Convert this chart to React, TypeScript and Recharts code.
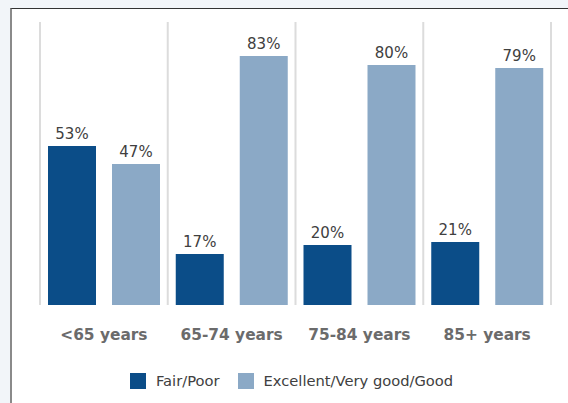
import React from 'react';
import { BarChart, Bar, XAxis, YAxis, CartesianGrid, LabelList } from 'recharts';

const ageGroups = ['<65 years', '65-74 years', '75-84 years', '85+ years'];
const fairPoor = [53, 17, 20, 21];
const excellentGood = [47, 83, 80, 79];
const seriesNames = ['Fair/Poor', 'Excellent/Very good/Good'];
const seriesColors = ['#0b4d88', '#8ba9c6'];

const chartData = ageGroups.map((age, i) => ({
  age,
  fairPoor: fairPoor[i],
  excellentGood: excellentGood[i],
}));

const FONT = '"DejaVu Sans", Verdana, sans-serif';

const AgeTick = (props: any) => {
  const { x, y, payload } = props;
  return (
    <text x={x} y={y} dy={27} textAnchor="middle" fontFamily={FONT} fontSize={15.4} fontWeight="bold" fill="#6b6b6b">
      {payload.value}
    </text>
  );
};

// separators sit on band edges, not band centres
const bandEdges = ({ offset }: any) =>
  ageGroups.concat(['']).map((_, i) => offset.left + (i * offset.width) / ageGroups.length);

const App = () => {
  return (
    <div style={{ position: 'absolute', left: 0, top: 0, width: 568, height: 403, background: '#f2f5f9', overflow: 'hidden' }}>
      <div
        style={{
          position: 'absolute', left: 10, top: 8, right: 0, bottom: 0,
          background: '#ffffff', borderTop: '1px solid #333333', borderLeft: '2px solid #8a8a8a',
        }}
      />
      <div style={{ position: 'absolute', left: 0, top: 0 }}>
        <BarChart
          width={568}
          height={403}
          data={chartData}
          margin={{ top: 22, right: 17, left: 40, bottom: 58 }}
          barCategoryGap={8}
          barGap={16}
        >
          <CartesianGrid
            horizontal={false}
            stroke="#dcdcdc"
            strokeWidth={2}
            verticalCoordinatesGenerator={bandEdges}
          />
          <XAxis dataKey="age" axisLine={false} tickLine={false} height={40} interval={0} tick={<AgeTick />} />
          <YAxis hide domain={[0, 94.3]} />
          <Bar dataKey="fairPoor" name={seriesNames[0]} fill={seriesColors[0]} isAnimationActive={false}>
            <LabelList
              dataKey="fairPoor"
              position="top"
              offset={7}
              formatter={(v: any) => `${v}%`}
              style={{ fontFamily: FONT, fontSize: 15, fill: '#404040' }}
            />
          </Bar>
          <Bar dataKey="excellentGood" name={seriesNames[1]} fill={seriesColors[1]} isAnimationActive={false}>
            <LabelList
              dataKey="excellentGood"
              position="top"
              offset={7}
              formatter={(v: any) => `${v}%`}
              style={{ fontFamily: FONT, fontSize: 15, fill: '#404040' }}
            />
          </Bar>
        </BarChart>
      </div>
      <div style={{ position: 'absolute', left: 130, top: 373, display: 'flex', alignItems: 'center', fontFamily: FONT, fontSize: 14.7, color: '#404040' }}>
        {seriesNames.map((name, i) => (
          <div key={name} style={{ display: 'flex', alignItems: 'center', marginRight: 18 }}>
            <span style={{ display: 'inline-block', width: 16, height: 16, background: seriesColors[i], marginRight: 10 }} />
            <span style={{ lineHeight: '16px' }}>{name}</span>
          </div>
        ))}
      </div>
    </div>
  );
};

export default App;
